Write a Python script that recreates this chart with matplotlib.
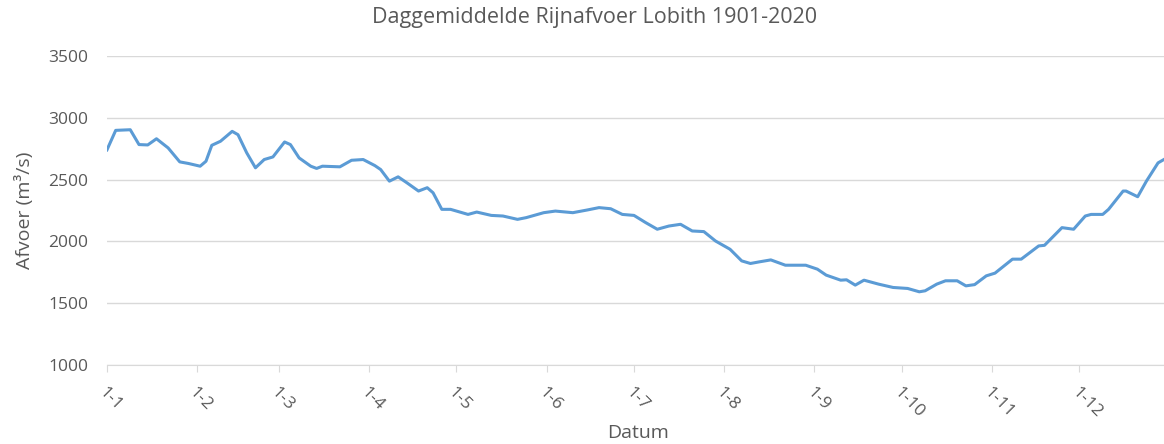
import numpy as np
import matplotlib.pyplot as plt

# Daily mean Rhine discharge at Lobith
day = [0, 3, 8, 11, 14, 17, 21, 25, 28, 32, 34, 36, 39, 43, 45, 48, 51, 54, 57,
       61, 63, 66, 70, 72, 74, 80, 84, 88, 92, 94, 97, 100, 103, 107, 110, 112,
       115, 118, 124, 127, 132, 136, 141, 144, 150, 154, 160, 165, 169, 173,
       177, 181, 185, 189, 193, 197, 201, 205, 209, 214, 218, 221, 224, 228,
       233, 240, 244, 247, 252, 254, 257, 260, 265, 270, 275, 279, 281, 285,
       288, 292, 295, 298, 302, 305, 311, 314, 320, 322, 328, 332, 336, 338,
       342, 344, 349, 350, 354, 357, 361, 363]
afvoer = [2740, 2898, 2903, 2783, 2780, 2830, 2756, 2643, 2630, 2608, 2648,
          2777, 2810, 2890, 2863, 2716, 2595, 2662, 2683, 2804, 2783, 2675,
          2608, 2590, 2608, 2603, 2656, 2662, 2613, 2581, 2487, 2522, 2474,
          2407, 2434, 2393, 2259, 2259, 2218, 2237, 2210, 2205, 2178, 2192,
          2232, 2245, 2232, 2254, 2273, 2264, 2218, 2210, 2152, 2098, 2124,
          2138, 2084, 2079, 2003, 1936, 1842, 1821, 1834, 1850, 1807, 1807,
          1775, 1727, 1686, 1689, 1646, 1686, 1654, 1627, 1619, 1592, 1600,
          1654, 1681, 1681, 1640, 1650, 1721, 1743, 1856, 1856, 1963, 1968,
          2111, 2098, 2205, 2218, 2218, 2259, 2407, 2407, 2361, 2487, 2635,
          2662]

tick_days = [0, 31, 59, 90, 120, 151, 181, 212, 243, 273, 304, 334]
tick_labels = ['1-1', '1-2', '1-3', '1-4', '1-5', '1-6', '1-7', '1-8', '1-9',
               '1-10', '1-11', '1-12']
y_ticks = [1000, 1500, 2000, 2500, 3000, 3500]

plt.rcParams['font.family'] = ['Open Sans', 'DejaVu Sans']
grey = '#595959'

fig = plt.figure(figsize=(11.64, 4.44), dpi=100)
ax = fig.add_axes([0.0919, 0.178, 0.913, 0.696])

ax.plot(day, afvoer, color='#5B9BD5', linewidth=2.2)

ax.set_xlim(0, 365)
ax.set_ylim(1000, 3500)
ax.set_yticks(y_ticks)
ax.set_xticks(tick_days)
ax.set_xticklabels(tick_labels, rotation=-45, ha='left', va='top',
                   rotation_mode='anchor')

ax.grid(axis='y', color='#D9D9D9', linewidth=1)
ax.set_axisbelow(True)
for s in ['top', 'right', 'left']:
    ax.spines[s].set_visible(False)
ax.spines['bottom'].set_color('#D9D9D9')
ax.tick_params(axis='y', length=0, pad=13.5, labelsize=12.5, labelcolor=grey)
ax.tick_params(axis='x', length=5, color='#D9D9D9', pad=9, labelsize=12.5,
               labelcolor=grey)

fig.suptitle('Daggemiddelde Rijnafvoer Lobith 1901-2020', x=0.511, y=0.985,
             va='top', fontsize=15.5, color=grey)
ax.set_ylabel('Afvoer (m³/s)', fontsize=14, color=grey, labelpad=10)
ax.set_xlabel('Datum', fontsize=14, color=grey, labelpad=2)

plt.savefig('out.png', dpi=100)
